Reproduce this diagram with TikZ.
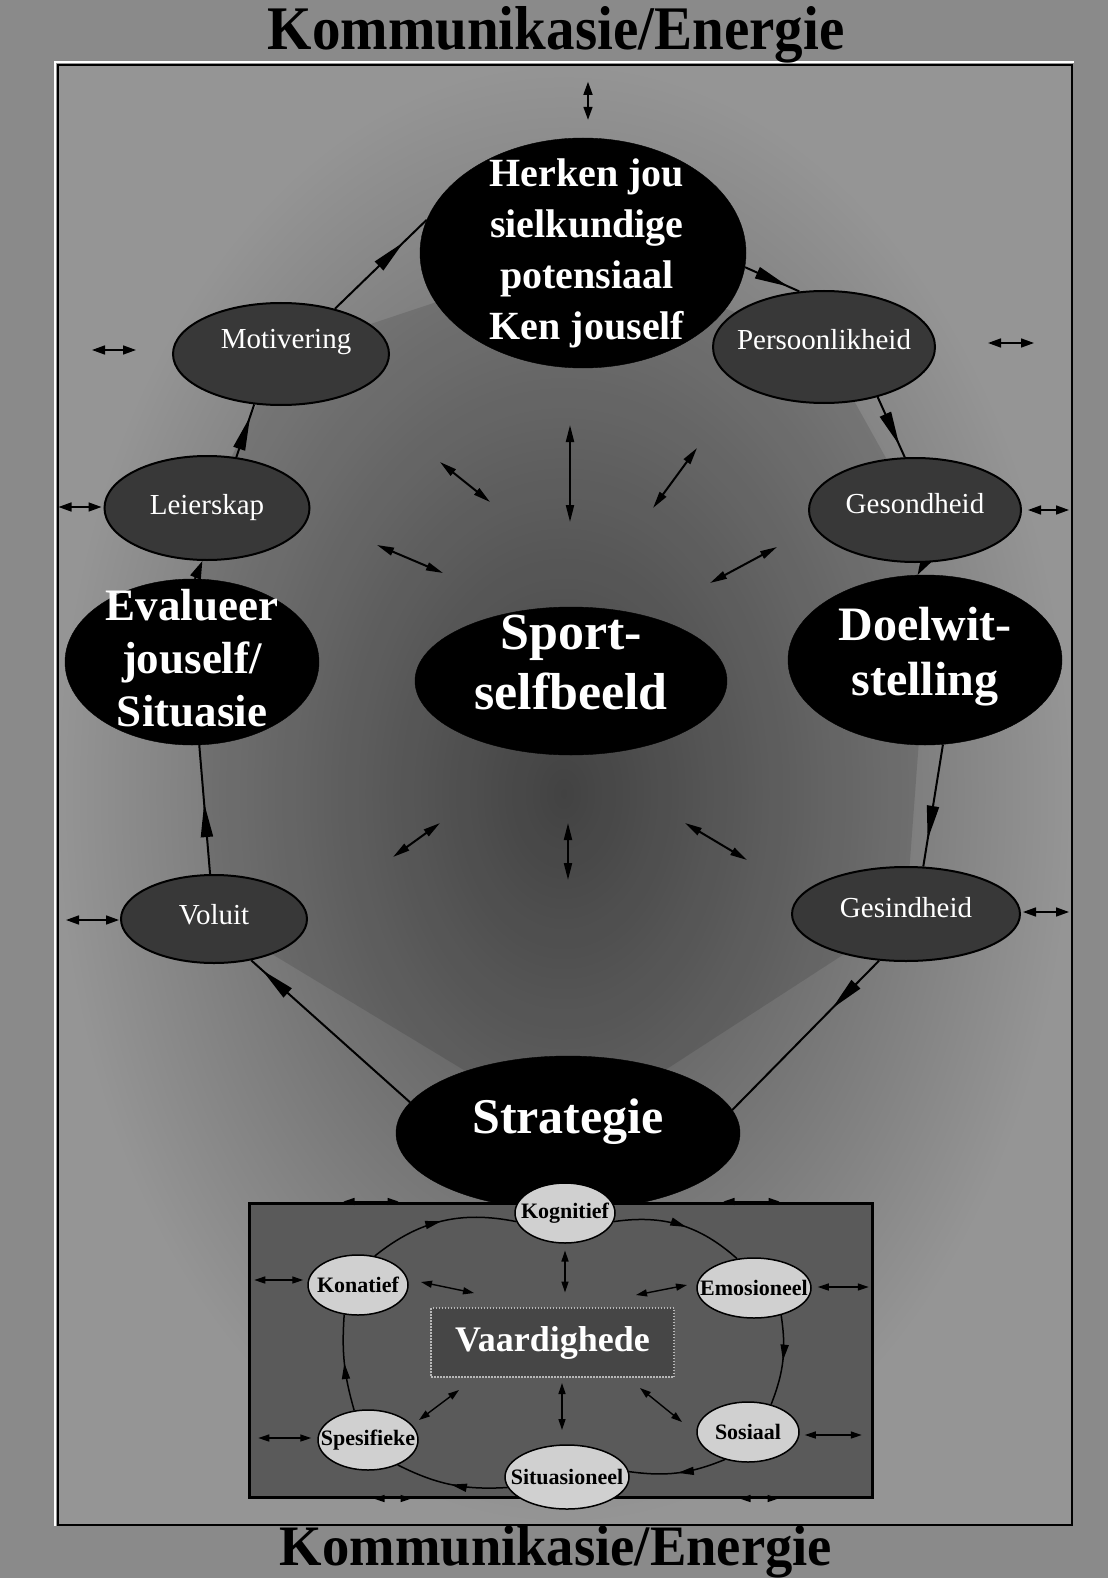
\documentclass[tikz,border=0pt]{standalone}
\usepackage{fontspec}
\setmainfont{Liberation Serif}
\usetikzlibrary{shapes.geometric,arrows.meta,decorations.markings,calc}
\pgfdeclarelayer{bg}
\pgfdeclarelayer{conn}
\pgfdeclarelayer{inner}
\pgfdeclarelayer{front}
\pgfsetlayers{bg,conn,main,inner,front}

\definecolor{outercol}{HTML}{8A8A8A}
\definecolor{rimcol}{HTML}{959595}
\definecolor{corecol}{HTML}{4C4C4C}
\definecolor{midfill}{HTML}{383838}
\definecolor{skillfill}{HTML}{D0D0D0}
\definecolor{boxfill}{HTML}{5A5A5A}
\definecolor{vaarfill}{HTML}{464646}

\tikzset{
  bigell/.style={ellipse, fill=black, draw=black, inner sep=0pt},
  bigtxt/.style={text=white, align=center, inner sep=0pt},
  midell/.style={ellipse, fill=midfill, draw=black, line width=2pt, inner sep=0pt},
  midtxt/.style={text=white, inner sep=0pt, font=\fontsize{29}{32}\selectfont},
  skill/.style={ellipse, fill=skillfill, draw=black, line width=1.5pt, inner sep=0pt},
  skilltxt/.style={text=black, inner sep=0pt, font=\bfseries\fontsize{22}{24}\selectfont},
  flow/.style={line width=2pt, postaction={decorate},
    decoration={markings, mark=at position #1 with {\arrow{Triangle[length=34pt,width=12pt]}}}},
  iflow/.style={line width=1.5pt, postaction={decorate},
    decoration={markings, mark=at position #1 with {\arrow{Triangle[length=16pt,width=8pt]}}}},
  spoke/.style={line width=2pt, {Triangle[length=17pt,width=8pt]}-{Triangle[length=17pt,width=8pt]}},
  pair/.style={line width=1.6pt, {Triangle[length=13pt,width=9pt]}-{Triangle[length=13pt,width=9pt]}},
  ipair/.style={line width=1.4pt, {Triangle[length=11pt,width=7pt]}-{Triangle[length=11pt,width=7pt]}},
  titletxt/.style={font=\bfseries\fontsize{62}{62}\selectfont, text=black, inner sep=0pt, anchor=base},
}

\begin{document}
\begin{tikzpicture}[x=1pt,y=-1pt]
\useasboundingbox (0,0) rectangle (1108,1578);

% ---------- outer cycle nodes ----------
\node[bigell, minimum width=326pt, minimum height=230pt,
  label={[bigtxt, font=\bfseries\fontsize{40}{51}\selectfont, xshift=4pt]center:{Herken jou\\sielkundige\\potensiaal\\Ken jouself}}] (her) at (583,253) {};
\node[midell, minimum width=216pt, minimum height=102pt,
  label={[midtxt, xshift=5pt, yshift=12pt]center:Motivering}] (mot) at (281,354) {};
\node[midell, minimum width=222pt, minimum height=112pt,
  label={[midtxt, yshift=7pt]center:Persoonlikheid}] (pers) at (824,347) {};
\node[midell, minimum width=205pt, minimum height=104pt,
  label={[midtxt]center:Leierskap}] (lei) at (207,508) {};
\node[midell, minimum width=212pt, minimum height=104pt,
  label={[midtxt, yshift=6pt]center:Gesondheid}] (ges) at (915,510) {};
\node[bigell, minimum width=254pt, minimum height=166pt,
  label={[bigtxt, font=\bfseries\fontsize{45}{53}\selectfont, yshift=4pt]center:{Evalueer\\jouself/\\Situasie}}] (eva) at (192,662) {};
\node[bigell, minimum width=312pt, minimum height=148pt,
  label={[bigtxt, font=\bfseries\fontsize{52}{60}\selectfont, yshift=18pt]center:{Sport-\\selfbeeld}}] (sport) at (571,681) {};
\node[bigell, minimum width=274pt, minimum height=170pt,
  label={[bigtxt, font=\bfseries\fontsize{48}{55}\selectfont, yshift=3pt]center:{Doelwit-\\stelling}}] (doel) at (925,660) {};
\node[midell, minimum width=186pt, minimum height=88pt,
  label={[midtxt, yshift=4pt]center:Voluit}] (vol) at (214,919) {};
\node[midell, minimum width=228pt, minimum height=94pt,
  label={[midtxt, yshift=6pt]center:Gesindheid}] (gsi) at (906,914) {};
\node[bigell, minimum width=344pt, minimum height=154pt,
  label={[bigtxt, font=\bfseries\fontsize{50}{56}\selectfont, yshift=11pt]center:Strategie}] (strat) at (568,1133) {};

% ---------- skills panel ----------
\node[rectangle, fill=boxfill, draw=black, line width=3pt, minimum width=623pt, minimum height=294pt, inner sep=0pt] (box) at (560.5,1350) {};

\begin{pgfonlayer}{front}
\node[rectangle, fill=vaarfill, draw=white!72!black, line width=1.3pt, dash pattern=on 1.5pt off 1.5pt,
  minimum width=243pt, minimum height=69pt, inner sep=0pt, text=white,
  font=\bfseries\fontsize{36}{40}\selectfont] (vaar) at (552.5,1342.5) {Vaardighede};
\node[skill, minimum width=100pt, minimum height=60pt, label={[skilltxt]center:Kognitief}] (kog) at (565,1213) {};
\node[skill, minimum width=100pt, minimum height=60pt, label={[skilltxt]center:Konatief}] (kon) at (358,1285) {};
\node[skill, minimum width=114pt, minimum height=60pt, label={[skilltxt]center:Emosioneel}] (emo) at (754,1288) {};
\node[skill, minimum width=100pt, minimum height=60pt, label={[skilltxt]center:Spesifieke}] (spe) at (368,1440) {};
\node[skill, minimum width=102pt, minimum height=60pt, label={[skilltxt]center:Sosiaal}] (sos) at (748,1432) {};
\node[skill, minimum width=124pt, minimum height=64pt, label={[skilltxt]center:Situasioneel}] (sit) at (567,1477) {};
\end{pgfonlayer}

% ---------- background, frame and titles ----------
\begin{pgfonlayer}{bg}
  \fill[outercol] (0,0) rectangle (1108,1578);
  \shade[inner color=corecol, outer color=rimcol] (55,62) rectangle (1072,1525);
  \fill[black, fill opacity=0.12, rounded corners=40pt]
    (her.center) -- (pers.center) -- (ges.center) -- (doel.center) -- (gsi.center) --
    (strat.center) -- (vol.center) -- (eva.center) -- (lei.center) -- (mot.center) -- cycle;
  \draw[black, line width=2.5pt] (58,65) rectangle (1072,1525);
  \draw[white, line width=2.5pt] (55,1526) -- (55,62) -- (1074,62);
  \node[titletxt] (ttop) at (556,50) {\scalebox{0.92}[1]{Kommunikasie/Energie}};
  \node[titletxt, font=\bfseries\fontsize{52}{52}\selectfont] (tbot) at (556,1565) {\scalebox{1.05}[1.1]{Kommunikasie/Energie}};
\end{pgfonlayer}

% ---------- connectors of the outer cycle ----------
\begin{pgfonlayer}{conn}
  \draw[flow=0.75] (mot.40) -- (her.168);
  \draw[flow=0.8] (her.355) -- (pers.114);
  \draw[flow=0.8] (pers.-43) -- (ges.101);
  \draw[line width=2pt, -{Triangle[length=18pt,width=11pt]}] (ges.-80) -- (doel.95);
  \draw[flow=0.78] (doel.-78) -- (gsi.70);
  \draw[flow=0.32] (gsi.-120) -- (strat.8);
  \draw[flow=0.93] (strat.169) -- (vol.-48);
  \draw[flow=0.55] (vol.95) -- (eva.-85);
  \draw[line width=2pt, -{Triangle[length=18pt,width=11pt]}] (eva.88) -- (lei.-95);
  \draw[flow=0.77] (lei.60) -- (mot.-118);

  % links between the hub and the ring
  \draw[spoke] ($(sport.center)+(-1,-256)$) -- ($(sport.center)+(-1,-159)$);
  \draw[spoke] ($(sport.center)+(-131,-219)$) -- ($(sport.center)+(-81,-179)$);
  \draw[spoke] ($(sport.center)+(126,-233)$) -- ($(sport.center)+(82,-173)$);
  \draw[spoke] ($(sport.center)+(-194,-136)$) -- ($(sport.center)+(-128,-108)$);
  \draw[spoke] ($(sport.center)+(206,-134)$) -- ($(sport.center)+(139,-98)$);
  \draw[spoke] ($(sport.center)+(-131,142)$) -- ($(sport.center)+(-178,176)$);
  \draw[spoke] ($(sport.center)+(-3,142)$) -- ($(sport.center)+(-3,199)$);
  \draw[spoke] ($(sport.center)+(114,142)$) -- ($(sport.center)+(176,179)$);

  % links out to the frame
  \draw[pair] ($(her.north)+(5,-56)$) -- ($(her.north)+(5,-18)$);
  \draw[pair] ($(mot.west)+(-80,-4)$) -- ($(mot.west)+(-36,-4)$);
  \draw[pair] ($(pers.east)+(52,-4)$) -- ($(pers.east)+(98,-4)$);
  \draw[pair] ($(lei.west)+(-45,-1)$) -- ($(lei.west)+(-2,-1)$);
  \draw[pair] ($(ges.east)+(6,0)$) -- ($(ges.east)+(47,0)$);
  \draw[pair] ($(vol.west)+(-54,1)$) -- ($(vol.west)+(-1,1)$);
  \draw[pair] ($(gsi.east)+(2,-2)$) -- ($(gsi.east)+(48,-2)$);
\end{pgfonlayer}

% ---------- connectors inside the skills panel ----------
\begin{pgfonlayer}{inner}
  \draw[iflow=0.5] (kon.60) to[bend left=25] (kog.190);
  \draw[iflow=0.55] (kog.-10) to[bend left=25] (emo.120);
  \draw[iflow=0.5] (emo.-45) to[bend left=15] (sos.50);
  \draw[iflow=0.5] (sos.-130) to[bend left=15] (sit.5);
  \draw[iflow=0.5] (sit.190) to[bend left=15] (spe.-40);
  \draw[iflow=0.5] (spe.115) to[bend left=10] (kon.-115);

  \draw[ipair] ($(vaar.center)+(12.5,-92)$) -- ($(vaar.center)+(12.5,-50)$);
  \draw[ipair] ($(vaar.center)+(-131.5,-60.5)$) -- ($(vaar.center)+(-78.5,-49.5)$);
  \draw[ipair] ($(vaar.center)+(134.5,-57.5)$) -- ($(vaar.center)+(83.5,-47.5)$);
  \draw[ipair] ($(vaar.center)+(-133.5,77.5)$) -- ($(vaar.center)+(-93.5,47.5)$);
  \draw[ipair] ($(vaar.center)+(9.5,40.5)$) -- ($(vaar.center)+(9.5,87.5)$);
  \draw[ipair] ($(vaar.center)+(129.5,79.5)$) -- ($(vaar.center)+(87.5,45.5)$);

  \draw[ipair] ($(kon.west)+(-53,-5)$) -- ($(kon.west)+(-4,-5)$);
  \draw[ipair] ($(emo.east)+(6,-1)$) -- ($(emo.east)+(57,-1)$);
  \draw[ipair] ($(spe.west)+(-59,-2)$) -- ($(spe.west)+(-6,-2)$);
  \draw[ipair] ($(sos.east)+(5,3)$) -- ($(sos.east)+(62,3)$);
  \draw[ipair] ($(box.north west)+(96,0)$) -- ($(box.north west)+(151,0)$);
  \draw[ipair] ($(box.north east)+(-150,0)$) -- ($(box.north east)+(-94,0)$);
  \draw[ipair] ($(box.south west)+(126,0)$) -- ($(box.south west)+(164,0)$);
  \draw[ipair] ($(box.south east)+(-134,0)$) -- ($(box.south east)+(-95,0)$);
\end{pgfonlayer}
\end{tikzpicture}
\end{document}
